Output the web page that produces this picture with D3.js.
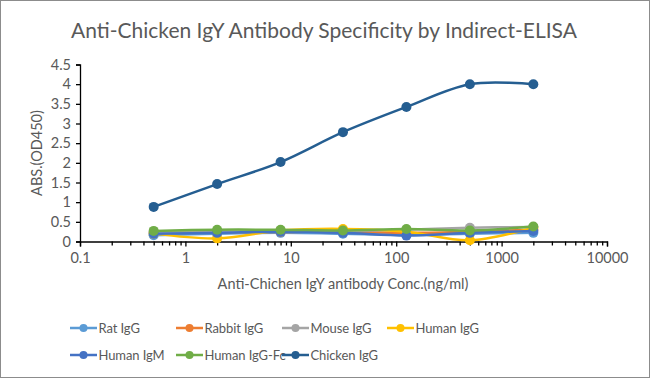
<!DOCTYPE html>
<html><head><meta charset="utf-8">
<script src="https://cdn.jsdelivr.net/npm/d3@7"></script>
<style>body{margin:0;background:#fff}svg{display:block}text{font-family:Lato,"Open Sans",sans-serif}</style>
</head><body>
<svg id="c" width="650" height="378"></svg>
<script>
const concentrations = [0.5, 2, 8, 31.25, 125, 500, 2000];
const seriesNames = ["Rat IgG","Rabbit IgG","Mouse IgG","Human IgG","Human IgM","Human IgG-Fc","Chicken IgG"];
const ratIgG     = [0.16, 0.20, 0.22, 0.20, 0.17, 0.20, 0.22];
const rabbitIgG  = [0.22, 0.24, 0.24, 0.25, 0.22, 0.25, 0.30];
const mouseIgG   = [0.25, 0.25, 0.27, 0.27, 0.30, 0.35, 0.37];
const humanIgG   = [0.20, 0.08, 0.28, 0.32, 0.25, 0.03, 0.35];
const humanIgM   = [0.20, 0.22, 0.25, 0.22, 0.15, 0.22, 0.27];
const humanIgGFc = [0.27, 0.30, 0.30, 0.28, 0.32, 0.28, 0.38];
const chickenIgG = [0.88, 1.46, 2.02, 2.78, 3.42, 4.00, 4.00];
const seriesColors = ["#5B9BD5","#ED7D31","#A5A5A5","#FFC000","#4472C4","#70AD47","#255E91"];
const xTicks = [0.1, 1, 10, 100, 1000, 10000];
const yTicks = [0, 0.5, 1, 1.5, 2, 2.5, 3, 3.5, 4, 4.5];

const allValues = [ratIgG, rabbitIgG, mouseIgG, humanIgG, humanIgM, humanIgGFc, chickenIgG];
const FONT = "Lato,'Open Sans',sans-serif";
const svg = d3.select("#c");
svg.append("rect").attr("x",0.5).attr("y",0.5).attr("width",649).attr("height",377)
  .attr("fill","#fff").attr("stroke","#8c8c8c").attr("stroke-width",1);

const x = d3.scaleLog().domain([0.1, 10000]).range([80, 607]);
const y = d3.scaleLinear().domain([0, 4.5]).range([241.5, 64.5]);

svg.append("text").attr("x",324).attr("y",38).attr("text-anchor","middle")
  .attr("font-size",21).attr("fill","#595959").text("Anti-Chicken IgY Antibody Specificity by Indirect-ELISA");

svg.append("g").attr("transform","translate(80,0)")
  .call(d3.axisLeft(y).tickValues(yTicks).tickSize(4).tickPadding(5).tickFormat(d3.format("")));
const minor = [];
for (let e = -1; e < 4; e++) for (let k = 2; k <= 9; k++) minor.push(k * Math.pow(10, e));
svg.append("g").attr("transform","translate(0,241.5)")
  .call(d3.axisBottom(x).tickValues(minor).tickSize(4).tickFormat(""))
  .call(g=>g.select(".domain").remove());
svg.append("g").attr("transform","translate(0,241.5)")
  .call(d3.axisBottom(x).tickValues(xTicks).tickSize(5).tickPadding(6).tickFormat(d=>String(d)));
svg.selectAll(".tick line, .domain").attr("stroke","#000").attr("stroke-width",1.3);
svg.selectAll(".tick text").attr("fill","#595959").attr("font-size",14.5).attr("font-family",FONT);

svg.append("text").attr("x",343).attr("y",289).attr("text-anchor","middle")
  .attr("font-size",14.5).attr("fill","#595959").text("Anti-Chichen IgY antibody Conc.(ng/ml)");
svg.append("text").attr("transform","translate(42,153) rotate(-90)").attr("text-anchor","middle")
  .attr("font-size",14.5).attr("fill","#595959").text("ABS.(OD450)");

const line = d3.line().x(d=>x(d[0])).y(d=>y(d[1])).curve(d3.curveCatmullRom.alpha(0.5));
allValues.forEach((vals, i) => {
  const pts = concentrations.map((c, j) => [c, vals[j]]);
  const g = svg.append("g");
  g.append("path").attr("d", line(pts)).attr("fill","none")
    .attr("stroke", seriesColors[i]).attr("stroke-width",2.5);
  g.selectAll("circle").data(pts).join("circle")
    .attr("cx",d=>x(d[0])).attr("cy",d=>y(d[1])).attr("r",5).attr("fill",seriesColors[i]);
});

const legX = [70, 176, 282, 387], legY = [328, 355];
seriesNames.forEach((name, i) => {
  const lx = legX[i % 4], ly = legY[Math.floor(i / 4)];
  const g = svg.append("g");
  g.append("line").attr("x1",lx).attr("x2",lx+27).attr("y1",ly).attr("y2",ly)
    .attr("stroke",seriesColors[i]).attr("stroke-width",2.5);
  g.append("circle").attr("cx",lx+13.5).attr("cy",ly).attr("r",4).attr("fill",seriesColors[i]);
  g.append("text").attr("x",lx+28.5).attr("y",ly+5).attr("font-size",13).attr("letter-spacing",-0.1)
    .attr("fill","#595959").text(name);
});
</script>
</body></html>
